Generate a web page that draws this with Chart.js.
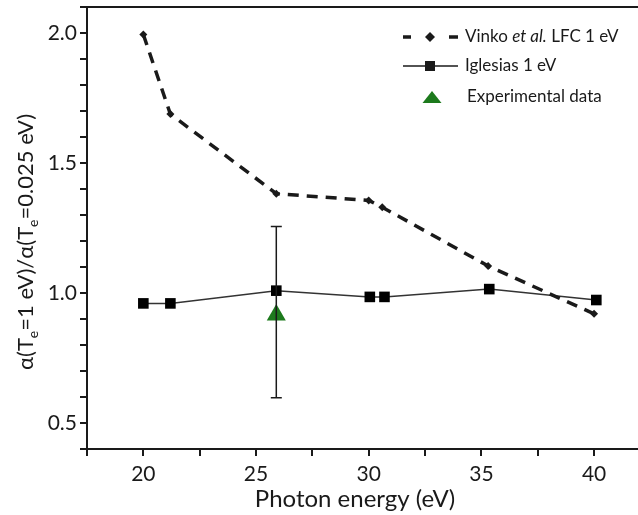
<!DOCTYPE html>
<html>
<head>
<meta charset="utf-8">
<script src="https://cdn.jsdelivr.net/npm/chart.js@4.4.1/dist/chart.umd.min.js"></script>
<style>
  html, body { margin: 0; padding: 0; background: #fff; overflow: hidden; }
  #wrap { width: 638px; height: 515px; }
</style>
</head>
<body>
<div id="wrap"><canvas id="chart" width="638" height="515"></canvas></div>
<script>
// values
const energyVinko = [20.0, 21.2, 25.9, 30.0, 30.6, 35.3, 40.0];
const ratioVinko = [1.994, 1.688, 1.382, 1.356, 1.330, 1.104, 0.920];
const energyIglesias = [20.0, 21.2, 25.9, 30.05, 30.7, 35.35, 40.1];
const ratioIglesias = [0.960, 0.960, 1.009, 0.985, 0.985, 1.015, 0.973];
const energyExp = [25.9];
const ratioExp = [0.915];
const expLow = [0.597];
const expHigh = [1.256];
const xLabelTicks = [20, 25, 30, 35, 40];
const yLabelTicks = [0.5, 1.0, 1.5, 2.0];

const FONT = 'Lato, "DejaVu Sans", sans-serif';
const INK = '#1a1a1a';
const GREEN = '#1d7a1d';

function pts(xs, ys) {
  return xs.map((x, i) => ({ x: x, y: ys[i] }));
}

function near(v, list) {
  return list.find(t => Math.abs(t - v) < 1e-6);
}

// error bar, frame, axis titles and legend
const extras = {
  id: 'extras',
  afterDatasetsDraw(chart) {
    const ctx = chart.ctx;
    const xs = chart.scales.x, ys = chart.scales.y;
    ctx.save();
    ctx.strokeStyle = INK;
    ctx.lineWidth = 1.5;
    energyExp.forEach((e, i) => {
      const px = xs.getPixelForValue(e);
      const top = ys.getPixelForValue(expHigh[i]);
      const bot = ys.getPixelForValue(expLow[i]);
      ctx.beginPath();
      ctx.moveTo(px, top); ctx.lineTo(px, bot);
      ctx.moveTo(px - 5.5, top); ctx.lineTo(px + 5.5, top);
      ctx.moveTo(px - 5.5, bot); ctx.lineTo(px + 5.5, bot);
      ctx.stroke();
    });
    ctx.restore();
  },
  afterDraw(chart) {
    const ctx = chart.ctx;
    const a = chart.chartArea;
    ctx.save();
    // top frame line
    ctx.strokeStyle = INK;
    ctx.lineWidth = 2;
    ctx.beginPath();
    ctx.moveTo(a.left - 7, a.top);
    ctx.lineTo(a.right, a.top);
    ctx.stroke();

    ctx.fillStyle = INK;
    // x title
    ctx.font = '24px ' + FONT;
    ctx.textAlign = 'center';
    ctx.textBaseline = 'alphabetic';
    ctx.fillText('Photon energy (eV)', 355, 507);

    // y title with subscripts
    const big = '22px ' + FONT, small = '14px ' + FONT;
    const parts = [['α(T', 0], ['e', 1], ['=1 eV)/α(T', 0], ['e', 1], ['=0.025 eV)', 0]];
    let total = 0;
    parts.forEach(p => { ctx.font = p[1] ? small : big; total += ctx.measureText(p[0]).width; });
    ctx.translate(33, 242);
    ctx.rotate(-Math.PI / 2);
    ctx.textAlign = 'left';
    let cx = -total / 2;
    parts.forEach(p => {
      ctx.font = p[1] ? small : big;
      ctx.fillText(p[0], cx, p[1] ? 5 : 0);
      cx += ctx.measureText(p[0]).width;
    });
    ctx.setTransform(1, 0, 0, 1, 0, 0);

    // legend
    ctx.textBaseline = 'middle';
    ctx.textAlign = 'left';
    ctx.strokeStyle = INK;
    ctx.lineWidth = 3.5;
    ctx.beginPath();
    ctx.moveTo(403, 37); ctx.lineTo(411, 37);
    ctx.moveTo(449, 37); ctx.lineTo(458, 37);
    ctx.stroke();
    ctx.beginPath();
    ctx.moveTo(430, 32); ctx.lineTo(435, 37); ctx.lineTo(430, 42); ctx.lineTo(425, 37);
    ctx.closePath(); ctx.fill();

    ctx.lineWidth = 1.5;
    ctx.beginPath();
    ctx.moveTo(403, 66); ctx.lineTo(458, 66);
    ctx.stroke();
    ctx.fillRect(425, 61, 10, 10);

    ctx.fillStyle = GREEN;
    ctx.beginPath();
    ctx.moveTo(432, 91); ctx.lineTo(441.5, 103); ctx.lineTo(422.5, 103);
    ctx.closePath(); ctx.fill();

    ctx.fillStyle = INK;
    let tx = 465;
    ctx.font = '17px ' + FONT;
    ctx.fillText('Vinko ', tx, 37);
    tx += ctx.measureText('Vinko ').width;
    ctx.font = 'italic 17px ' + FONT;
    ctx.fillText('et al.', tx, 37);
    tx += ctx.measureText('et al.').width;
    ctx.font = '17px ' + FONT;
    ctx.fillText(' LFC 1 eV', tx, 37);
    ctx.fillText('Iglesias 1 eV', 465, 66);
    ctx.fillText('Experimental data', 467, 97);
    ctx.restore();
  }
};

Chart.defaults.font.family = FONT;
Chart.defaults.color = INK;

new Chart(document.getElementById('chart'), {
  type: 'scatter',
  data: {
    datasets: [
      {
        label: 'Vinko et al. LFC 1 eV',
        data: pts(energyVinko, ratioVinko),
        showLine: true,
        borderColor: INK,
        borderWidth: 3.5,
        borderDash: [11, 8],
        pointStyle: 'rectRot',
        pointRadius: 4,
        pointBackgroundColor: INK,
        pointBorderWidth: 0
      },
      {
        label: 'Iglesias 1 eV',
        data: pts(energyIglesias, ratioIglesias),
        showLine: true,
        borderColor: '#333',
        borderWidth: 1.5,
        pointStyle: 'rect',
        pointRadius: 7.5,
        pointBackgroundColor: '#000',
        pointBorderWidth: 0
      },
      {
        label: 'Experimental data',
        data: pts(energyExp, ratioExp),
        pointStyle: 'triangle',
        pointRadius: 11,
        pointBackgroundColor: GREEN,
        pointBorderWidth: 0
      }
    ]
  },
  options: {
    responsive: false,
    animation: false,
    devicePixelRatio: 1,
    layout: { autoPadding: false, padding: { top: 7, right: 0, left: 0, bottom: 0 } },
    plugins: { legend: { display: false }, tooltip: { enabled: false } },
    scales: {
      x: {
        type: 'linear',
        min: 17.5,
        max: 41.95,
        afterFit(s) { s.height = 66; s.paddingLeft = 0; s.paddingRight = 0; },
        afterBuildTicks(s) {
          s.ticks = s.ticks.filter(t => Math.abs(t.value / 2.5 - Math.round(t.value / 2.5)) < 1e-6);
        },
        ticks: {
          stepSize: 2.5,
          includeBounds: false,
          autoSkip: false,
          maxRotation: 0,
          padding: 6,
          font: { size: 21 },
          color: INK,
          callback: v => near(v, xLabelTicks) !== undefined ? String(v) : ''
        },
        grid: { drawOnChartArea: false, drawTicks: true, tickLength: 7, color: INK, lineWidth: 2 },
        border: { display: true, color: INK, width: 2 }
      },
      y: {
        min: 0.4,
        max: 2.1,
        afterFit(s) { s.width = 87; s.paddingTop = 0; s.paddingBottom = 0; },
        ticks: {
          stepSize: 0.1,
          autoSkip: false,
          padding: 3,
          font: { size: 21 },
          color: INK,
          callback: v => near(v, yLabelTicks) !== undefined ? v.toFixed(1) : ''
        },
        grid: { drawOnChartArea: false, drawTicks: true, tickLength: 7, color: INK, lineWidth: 2 },
        border: { display: true, color: INK, width: 2 }
      }
    }
  },
  plugins: [extras]
});
</script>
</body>
</html>
